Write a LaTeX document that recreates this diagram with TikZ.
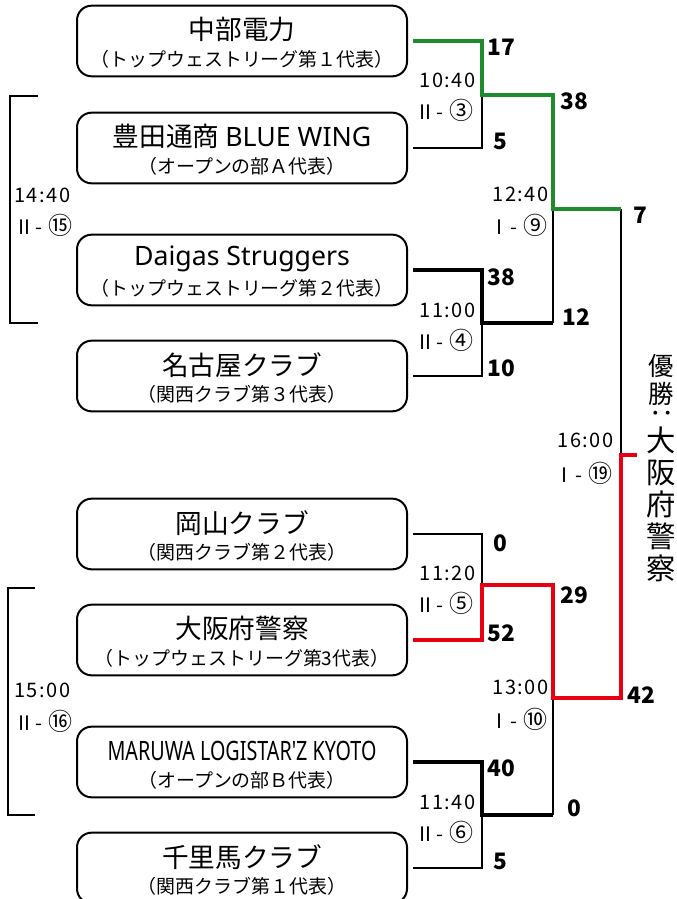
\documentclass[tikz,border=0pt]{standalone}
\usepackage{fontspec}
\setmainfont{Noto Sans CJK JP}
\newfontfamily\latinfont{Noto Sans}
\newfontfamily\timefont[LetterSpace=8]{Noto Sans CJK JP}
\usepackage{xcolor}
\definecolor{wingreen}{RGB}{30,140,45}
\definecolor{winred}{RGB}{230,0,18}
\usetikzlibrary{positioning}

\newcommand{\circnum}[1]{{\fontsize{18}{18}\selectfont #1}}

\tikzset{
  teambox/.style={draw, line width=1.5pt, rounded corners=11pt, minimum width=247.5pt, minimum height=53pt, inner sep=0pt},
  teamname/.style={inner sep=0pt, font=\fontsize{20}{22}\selectfont},
  teamsub/.style={inner sep=0pt, font=\fontsize{14.2}{16}\selectfont},
  score/.style={anchor=west, inner sep=0pt, font=\fontsize{17}{19}\bfseries\selectfont},
  timelbl/.style={inner sep=0pt, font=\fontsize{15}{17}\timefont},
  thinline/.style={line width=1.1pt},
  boldline/.style={line width=3pt},
  greenline/.style={line width=3pt, draw=wingreen},
  redline/.style={line width=3.2pt, draw=winred},
  bracketline/.style={line width=1.5pt}
}

\begin{document}
\begin{tikzpicture}[x=0.75pt, y=-0.75pt]
\useasboundingbox[fill=white] (0,0) rectangle (676,899);

% チーム
\node[teambox] (t1) at (242,41) {};
\node[teamname] (n1) at ([yshift=8.5pt]t1.center) {中部電力};
\node[teamsub] (s1) at ([yshift=-13.5pt]t1.center) {（トップウェストリーグ第１代表）};

\node[teambox] (t2) at (242,148) {};
\node[teamname] (n2) at ([yshift=8.5pt]t2.center) {豊田通商 {\latinfont BLUE WING}};
\node[teamsub] (s2) at ([yshift=-13.5pt]t2.center) {（オープンの部Ａ代表）};

\node[teambox] (t3) at (242,270) {};
\node[teamname] (n3) at ([yshift=8.5pt]t3.center) {\latinfont Daigas Struggers};
\node[teamsub] (s3) at ([yshift=-13.5pt]t3.center) {（トップウェストリーグ第２代表）};

\node[teambox] (t4) at (242,376) {};
\node[teamname] (n4) at ([yshift=8.5pt]t4.center) {名古屋クラブ};
\node[teamsub] (s4) at ([yshift=-13.5pt]t4.center) {（関西クラブ第３代表）};

\node[teambox] (t5) at (242,534) {};
\node[teamname] (n5) at ([yshift=8.5pt]t5.center) {岡山クラブ};
\node[teamsub] (s5) at ([yshift=-13.5pt]t5.center) {（関西クラブ第２代表）};

\node[teambox] (t6) at (242,640) {};
\node[teamname] (n6) at ([yshift=8.5pt]t6.center) {大阪府警察};
\node[teamsub] (s6) at ([yshift=-13.5pt]t6.center) {（トップウェストリーグ第3代表）};

\node[teambox] (t7) at (242,762) {};
\node[teamname] (n7) at ([yshift=8.5pt]t7.center) {\latinfont\scalebox{0.74}[1]{MARUWA LOGISTAR'Z KYOTO}};
\node[teamsub] (s7) at ([yshift=-13.5pt]t7.center) {（オープンの部Ｂ代表）};

\node[teambox] (t8) at (242,868) {};
\node[teamname] (n8) at ([yshift=8.5pt]t8.center) {千里馬クラブ};
\node[teamsub] (s8) at ([yshift=-13.5pt]t8.center) {（関西クラブ第１代表）};

% 組み合わせの分岐点
\coordinate (m3) at (482,95);
\coordinate (m4) at (482,323);
\coordinate (m5) at (482,585);
\coordinate (m6) at (482,815);
\coordinate (m9) at (553,209);
\coordinate (m10) at (553,698);
\coordinate (r9) at (621,209);
\coordinate (m19) at (621,455);
\coordinate (champ) at (637,455);

% 負けた側
\draw[thinline] ([xshift=4pt]t2.east) -| (m3);
\draw[thinline] ([xshift=4pt]t4.east) -| (m4);
\draw[thinline] ([xshift=4pt]t5.east) -| (m5);
\draw[thinline] ([xshift=4pt]t8.east) -| (m6);
\draw[thinline] (m9) -- (m9 |- m4);
\draw[thinline] (m10) -- (m10 |- m6);
\draw[thinline] (r9) -- (m19);

% 勝ち上がり
\draw[boldline] ([xshift=4pt]t3.east) -| (m4) -- (m4 -| m9);
\draw[boldline] ([xshift=4pt]t7.east) -| (m6) -- (m6 -| m10);
\draw[greenline] ([xshift=4pt]t1.east) -| (m3) -| (m9) -- (r9);
\draw[redline] ([xshift=4pt]t6.east) -| (m5) -| (m10) -| (m19) -- (champ);

% 得点
\node[score] (p1) at (487,47) {17};
\node[score] (p2) at (493,141) {5};
\node[score] (p3) at (560,101) {38};
\node[score] (p4) at (487,277) {38};
\node[score] (p5) at (487,368) {10};
\node[score] (p6) at (562,317) {12};
\node[score] (p7) at (633,215) {7};
\node[score] (p8) at (493,543) {0};
\node[score] (p9) at (487,633) {52};
\node[score] (p10) at (560,595) {29};
\node[score] (p11) at (487,768) {40};
\node[score] (p12) at (493,861) {5};
\node[score] (p13) at (567,808) {0};
\node[score] (p14) at (627,695) {42};

% 試合時刻と番号
\node[timelbl, anchor=east] (k3) at (476,80) {10:40};
\node[timelbl, anchor=east] (g3) at (474,110) {Ⅱ- \circnum{③}};
\node[timelbl, anchor=east] (k4) at (476,310) {11:00};
\node[timelbl, anchor=east] (g4) at (474,340) {Ⅱ- \circnum{④}};
\node[timelbl, anchor=east] (k5) at (476,573) {11:20};
\node[timelbl, anchor=east] (g5) at (474,603) {Ⅱ- \circnum{⑤}};
\node[timelbl, anchor=east] (k6) at (476,802) {11:40};
\node[timelbl, anchor=east] (g6) at (474,832) {Ⅱ- \circnum{⑥}};
\node[timelbl, anchor=east] (k9) at (549,194) {12:40};
\node[timelbl, anchor=east] (g9) at (548,225) {Ⅰ- \circnum{⑨}};
\node[timelbl, anchor=east] (k10) at (549,687) {13:00};
\node[timelbl, anchor=east] (g10) at (548,719) {Ⅰ- \circnum{⑩}};
\node[timelbl, anchor=east] (k19) at (614,440) {16:00};
\node[timelbl, anchor=east] (g19) at (613,473) {Ⅰ- \circnum{⑲}};

% 順位決定戦
\coordinate (b1t) at (38,96);
\coordinate (b1b) at (38,323);
\draw[bracketline] (b1t) -- (10,96) -- (10,323) -- (b1b);
\node[timelbl, anchor=west] (k15) at (14,195) {14:40};
\node[timelbl, anchor=west] (g15) at (14,225) {Ⅱ- \circnum{⑮}};
\coordinate (b2t) at (35,588);
\coordinate (b2b) at (35,815);
\draw[bracketline] (b2t) -- (8,588) -- (8,815) -- (b2b);
\node[timelbl, anchor=west] (k16) at (14,690) {15:00};
\node[timelbl, anchor=west] (g16) at (14,721) {Ⅱ- \circnum{⑯}};

% 優勝
\node[inner sep=0pt, align=center, font=\fontsize{19}{21}\selectfont] (w1) at (661,380) {優\\勝};
\node[inner sep=0pt, font=\fontsize{19}{21}\selectfont] (w2) at (661,413) {\rotatebox[origin=c]{-90}{：}};
\node[inner sep=0pt, align=center, font=\fontsize{22}{24}\selectfont] (w3) at (661,504) {大\\阪\\府\\警\\察};
\end{tikzpicture}
\end{document}
